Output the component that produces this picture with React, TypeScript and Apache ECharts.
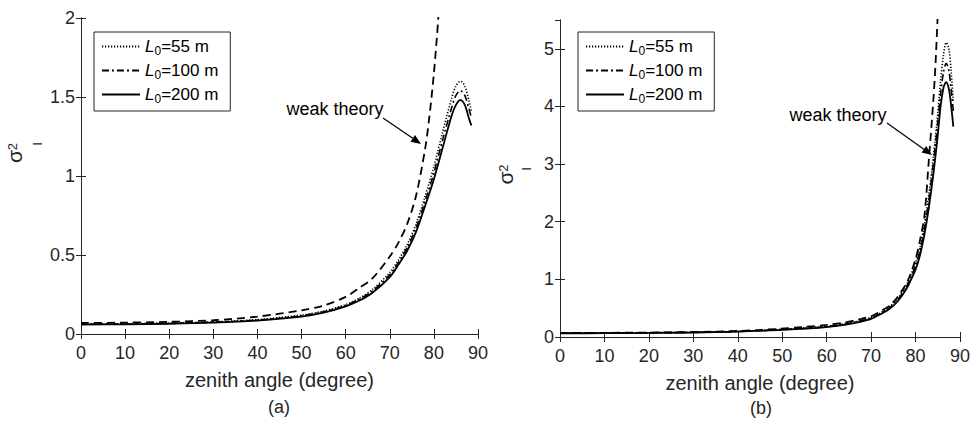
import React, { useEffect, useRef } from 'react';
import * as echarts from 'echarts';

// ---------- Data ----------
const legendNames = ['L0=55 m', 'L0=100 m', 'L0=200 m'];
const theoryName = 'weak theory';

// Panel (a)
const anglesA = [0, 10, 20, 30, 40, 50, 55, 60, 63, 66, 70, 72, 74, 76, 78, 80, 82, 84, 85, 86, 87, 88, 88.5];
const a55 = [0.064, 0.065, 0.069, 0.077, 0.091, 0.12, 0.145, 0.186, 0.225, 0.28, 0.39, 0.47, 0.57, 0.7, 0.87, 1.06, 1.28, 1.49, 1.57, 1.6, 1.57, 1.47, 1.41];
const a100 = [0.062, 0.063, 0.067, 0.075, 0.088, 0.115, 0.14, 0.18, 0.22, 0.27, 0.375, 0.455, 0.55, 0.675, 0.84, 1.02, 1.23, 1.43, 1.51, 1.54, 1.51, 1.42, 1.37];
const a200 = [0.06, 0.061, 0.065, 0.072, 0.085, 0.11, 0.135, 0.175, 0.21, 0.26, 0.36, 0.44, 0.53, 0.65, 0.81, 0.98, 1.18, 1.38, 1.45, 1.48, 1.45, 1.36, 1.32];
const anglesTheoryA = [0, 10, 20, 30, 40, 50, 55, 60, 63, 66, 70, 72, 74, 76, 78, 79, 80, 81, 82];
const theoryA = [0.07, 0.072, 0.077, 0.087, 0.11, 0.15, 0.18, 0.235, 0.29, 0.35, 0.49, 0.58, 0.7, 0.88, 1.17, 1.38, 1.65, 2.0, 2.45];

// Panel (b)
const anglesB = [0, 10, 20, 30, 40, 49, 55, 60, 64, 67, 70, 72, 74, 76, 78, 79, 80, 81, 82, 83, 84, 85, 85.6, 86.3, 86.9, 87.5, 88, 88.5];
const b55 = [0.07, 0.071, 0.075, 0.083, 0.098, 0.13, 0.155, 0.185, 0.23, 0.275, 0.34, 0.415, 0.515, 0.665, 0.91, 1.09, 1.28, 1.56, 1.96, 2.48, 3.12, 3.88, 4.42, 4.9, 5.11, 5.0, 4.62, 4.08];
const b100 = [0.067, 0.068, 0.072, 0.08, 0.095, 0.125, 0.15, 0.18, 0.222, 0.265, 0.328, 0.405, 0.5, 0.645, 0.88, 1.05, 1.23, 1.5, 1.88, 2.38, 3.0, 3.72, 4.2, 4.6, 4.75, 4.62, 4.3, 3.92];
const b200 = [0.065, 0.066, 0.07, 0.078, 0.092, 0.12, 0.145, 0.172, 0.212, 0.255, 0.315, 0.39, 0.48, 0.62, 0.84, 1.0, 1.17, 1.42, 1.78, 2.25, 2.82, 3.5, 3.98, 4.33, 4.42, 4.3, 4.02, 3.65];
const anglesTheoryB = [0, 10, 20, 30, 40, 49, 55, 60, 64, 67, 70, 72, 74.4, 76, 78.2, 80, 81, 82, 83, 84, 84.5, 85, 85.5];
const theoryB = [0.07, 0.072, 0.077, 0.087, 0.105, 0.14, 0.175, 0.21, 0.25, 0.3, 0.36, 0.44, 0.56, 0.7, 0.97, 1.35, 1.68, 2.1, 3.08, 4.1, 4.75, 5.6, 6.5];

const xTicksMax = 90;
const yMaxA = 2;
const yMaxB = 5.5;

// ---------- Styles ----------
const INK = '#262626';
const FONT = '"Liberation Sans", Arial, Helvetica, sans-serif';

const pairs = (xs: number[], ys: number[]) => xs.map((x, i) => [x, ys[i]]);

const lineStyles = [
  { type: [1.2, 1.8], width: 1.6 }, // dotted
  { type: [7, 3, 2, 3], width: 1.6 }, // dash-dot
  { type: 'solid', width: 1.8 }, // solid
];

export default function App() {
  const ref = useRef<HTMLDivElement>(null);

  useEffect(() => {
    if (!ref.current) return;
    const chart = echarts.init(ref.current, undefined, { renderer: 'svg' });

    const grids = [
      { left: 81, top: 18, width: 397, height: 316 },
      { left: 560, top: 20, width: 403, height: 317 },
    ];

    const xAxisBase = (gridIndex: number, position: 'bottom' | 'top') => ({
      type: 'value',
      gridIndex,
      position,
      min: 0,
      max: xTicksMax,
      interval: 10,
      axisLine: { show: true, lineStyle: { color: INK, width: 1 } },
      axisTick: { show: true, inside: true, length: 5, lineStyle: { color: INK } },
      axisLabel: {
        show: position === 'bottom',
        color: INK,
        fontSize: 18,
        fontFamily: FONT,
        margin: 10,
      },
      splitLine: { show: false },
      name: position === 'bottom' ? 'zenith angle (degree)' : '',
      nameLocation: 'middle',
      nameGap: 36,
      nameTextStyle: { color: INK, fontSize: 20, fontFamily: FONT },
    });

    const yAxisBase = (
      gridIndex: number,
      position: 'left' | 'right',
      max: number,
      interval: number,
      nameGap: number,
      shift: number,
    ) => ({
      type: 'value',
      gridIndex,
      position,
      min: 0,
      max,
      interval,
      axisLine: { show: true, lineStyle: { color: INK, width: 1 } },
      axisTick: { show: true, inside: true, length: 5, lineStyle: { color: INK } },
      axisLabel: {
        show: position === 'left',
        color: INK,
        fontSize: 18,
        fontFamily: FONT,
        margin: 6,
        showMaxLabel: max === yMaxA,
      },
      splitLine: { show: false },
      name: position === 'left' ? '{s|σ}{p|2}' : '',
      nameLocation: 'middle',
      nameRotate: 90,
      nameGap,
      nameTextStyle: {
        color: INK,
        padding: [0, 0, 0, shift],
        rich: {
          s: { fontSize: 21, fontFamily: FONT, color: INK },
          p: { fontSize: 13, fontFamily: FONT, color: INK, padding: [0, 0, 5, 0] },
        },
      },
    });

    const mkSeries = (name: string, data: number[][], idx: number, axisIndex: number, style: any) => ({
      type: 'line',
      name,
      xAxisIndex: axisIndex,
      yAxisIndex: axisIndex,
      data,
      showSymbol: false,
      symbol: 'none',
      smooth: 0.3,
      clip: true,
      lineStyle: { color: '#000', ...style },
      itemStyle: { color: '#000' },
      z: 3 + idx,
    });

    const legendBase = (left: number) => ({
      orient: 'vertical',
      left,
      top: 32,
      data: legendNames,
      itemWidth: 38,
      itemHeight: 14,
      itemGap: 5,
      padding: [6, 12, 6, 7],
      borderColor: INK,
      borderWidth: 1,
      backgroundColor: '#fff',
      selectedMode: false,
      itemStyle: { opacity: 0, borderWidth: 0 },
      formatter: (n: string) => {
        const rest = n.replace('L0', '');
        return `{i|L}{s|0}{t|${rest}}`;
      },
      textStyle: {
        color: '#000',
        fontFamily: FONT,
        fontSize: 17,
        rich: {
          i: { fontStyle: 'italic', fontSize: 17, fontFamily: FONT, color: '#000' },
          s: { fontSize: 12, fontFamily: FONT, color: '#000', padding: [9, 0, 0, 0] },
          t: { fontSize: 17, fontFamily: FONT, color: '#000' },
        },
      },
    });

    const subI = (x: number, y: number) => ({
      type: 'text', x, y, rotation: Math.PI / 2,
      style: { text: 'I', font: `13px ${FONT}`, fill: INK, align: 'center', verticalAlign: 'middle' },
    });

    const arrow = (x1: number, y1: number, x2: number, y2: number) => {
      const ang = Math.atan2(y2 - y1, x2 - x1);
      const L = 10, W = 4;
      const bx = x2 - L * Math.cos(ang), by = y2 - L * Math.sin(ang);
      const px = -Math.sin(ang) * W, py = Math.cos(ang) * W;
      return [
        { type: 'line', shape: { x1, y1, x2: bx, y2: by }, style: { stroke: '#000', lineWidth: 1.2 } },
        {
          type: 'polygon',
          shape: { points: [[x2, y2], [bx + px, by + py], [bx - px, by - py]] },
          style: { fill: '#000' },
        },
      ];
    };

    const option: any = {
      animation: false,
      backgroundColor: '#fff',
      textStyle: { fontFamily: FONT },
      grid: grids,
      xAxis: [xAxisBase(0, 'bottom'), xAxisBase(0, 'top'), xAxisBase(1, 'bottom'), xAxisBase(1, 'top')],
      yAxis: [
        yAxisBase(0, 'left', yMaxA, 0.5, 56, 46),
        yAxisBase(0, 'right', yMaxA, 0.5, 0, 0),
        yAxisBase(1, 'left', yMaxB, 1, 44, 8),
        yAxisBase(1, 'right', yMaxB, 1, 0, 0),
      ],
      legend: [legendBase(94), legendBase(578)],
      series: [
        mkSeries(theoryName, pairs(anglesTheoryA, theoryA), 0, 0, { type: [8, 5], width: 1.8 }),
        mkSeries(legendNames[0], pairs(anglesA, a55), 1, 0, lineStyles[0]),
        mkSeries(legendNames[1], pairs(anglesA, a100), 2, 0, lineStyles[1]),
        mkSeries(legendNames[2], pairs(anglesA, a200), 3, 0, lineStyles[2]),
        mkSeries(theoryName, pairs(anglesTheoryB, theoryB), 0, 2, { type: [8, 5], width: 1.8 }),
        mkSeries(legendNames[0], pairs(anglesB, b55), 1, 2, lineStyles[0]),
        mkSeries(legendNames[1], pairs(anglesB, b100), 2, 2, lineStyles[1]),
        mkSeries(legendNames[2], pairs(anglesB, b200), 3, 2, lineStyles[2]),
      ],
      graphic: [
        subI(37, 144),
        subI(526, 169),
        {
          type: 'text', x: 335, y: 109,
          style: { text: 'weak theory', font: `18px ${FONT}`, fill: '#000', align: 'center', verticalAlign: 'middle' },
        },
        ...arrow(383, 118, 421, 144),
        {
          type: 'text', x: 838, y: 115,
          style: { text: 'weak theory', font: `18px ${FONT}`, fill: '#000', align: 'center', verticalAlign: 'middle' },
        },
        ...arrow(887, 123, 932, 155),
        {
          type: 'text', x: 279, y: 407,
          style: { text: '(a)', font: `18px ${FONT}`, fill: INK, align: 'center', verticalAlign: 'middle' },
        },
        {
          type: 'text', x: 761, y: 408,
          style: { text: '(b)', font: `18px ${FONT}`, fill: INK, align: 'center', verticalAlign: 'middle' },
        },
      ],
    };

    chart.setOption(option);
    return () => chart.dispose();
  }, []);

  return (
    <div
      ref={ref}
      style={{ position: 'fixed', left: 0, top: 0, width: 973, height: 421, background: '#fff' }}
    />
  );
}
